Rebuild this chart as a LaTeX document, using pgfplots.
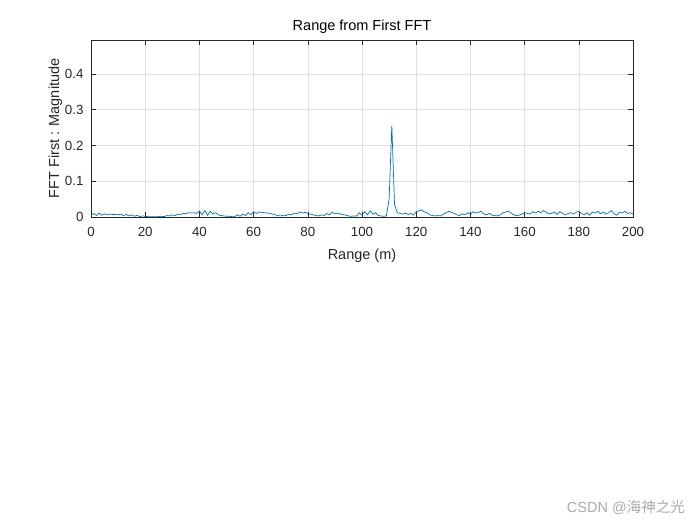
\documentclass[border=0pt]{standalone}
\usepackage{pgfplots}
\pgfplotsset{compat=1.18}
\usepackage{fontspec}
\setmainfont{Liberation Sans}
\newfontfamily\cjk{Noto Sans CJK SC}
\definecolor{mblue}{RGB}{0,114,189}
\definecolor{axc}{RGB}{38,38,38}
\definecolor{gridc}{RGB}{223,223,223}
\begin{document}
\begin{tikzpicture}[x=1bp,y=1bp]
\fill[white] (0,0) rectangle (700,525);
\useasboundingbox (0,0) rectangle (700,525);
\begin{axis}[
  at={(91bp,308bp)}, anchor=south west,
  scale only axis, width=542bp, height=177bp,
  xmin=0, xmax=200, ymin=0, ymax=0.495,
  xtick={0,20,...,200}, ytick={0,0.1,0.2,0.3,0.4},
  yticklabels={0,0.1,0.2,0.3,0.4},
  grid=major, major grid style={gridc, line width=0.5bp},
  axis line style={axc, line width=0.6bp},
  tick style={axc, line width=0.6bp}, major tick length=5bp,
  tick align=inside, tick pos=both,
  ticklabel style={font=\fontsize{13.3bp}{15bp}\selectfont, text=axc},
  /pgf/number format/assume math mode=true,
  xticklabel style={yshift=-7bp},
  yticklabel style={xshift=-4bp},
  title={Range from First FFT},
  title style={font=\fontsize{14.5bp}{16bp}\selectfont, text=black, yshift=-3bp},
  xlabel={Range (m)}, ylabel={FFT First : Magnitude},
  label style={font=\fontsize{14.5bp}{16bp}\selectfont, text=axc},
  xlabel style={yshift=-5bp},
  ylabel style={yshift=-4bp},
  clip=true,
]
\addplot[mblue, line width=0.7bp] table {
x y
0 0.004
1 0.010
2 0.004
3 0.011
4 0.005
5 0.009
6 0.007
7 0.008
8 0.007
9 0.007
10 0.006
11 0.008
12 0.004
13 0.007
14 0.003
15 0.006
16 0.002
17 0.005
18 0.001
19 0.003
20 0.002
21 0.001
22 0.001
23 0.001
24 0.001
25 0.001
26 0.002
27 0.001
28 0.004
29 0.003
30 0.006
31 0.004
32 0.008
33 0.007
34 0.010
35 0.009
36 0.012
37 0.011
38 0.012
39 0.010
40 0.017
41 0.006
42 0.018
43 0.005
44 0.016
45 0.008
46 0.012
47 0.006
48 0.004
49 0.003
50 0.002
51 0.002
52 0.001
53 0.001
54 0.006
55 0.002
56 0.008
57 0.004
58 0.012
59 0.006
60 0.015
61 0.010
62 0.014
63 0.013
64 0.012
65 0.011
66 0.010
67 0.008
68 0.006
69 0.004
70 0.003
71 0.005
72 0.004
73 0.008
74 0.006
75 0.011
76 0.009
77 0.014
78 0.011
79 0.013
80 0.010
81 0.008
82 0.006
83 0.004
84 0.003
85 0.006
86 0.004
87 0.010
88 0.006
89 0.013
90 0.009
91 0.011
92 0.008
93 0.007
94 0.005
95 0.003
96 0.002
97 0.003
98 0.003
99 0.012
100 0.005
101 0.015
102 0.006
103 0.017
104 0.008
105 0.012
106 0.004
107 0.003
108 0.002
109 0.003
110 0.050
111 0.255
112 0.035
113 0.012
114 0.010
115 0.008
116 0.011
117 0.007
118 0.010
119 0.005
120 0.015
121 0.017
122 0.020
123 0.014
124 0.012
125 0.006
126 0.004
127 0.003
128 0.004
129 0.003
130 0.008
131 0.012
132 0.016
133 0.013
134 0.010
135 0.006
136 0.004
137 0.009
138 0.006
139 0.012
140 0.007
141 0.015
142 0.011
143 0.013
144 0.016
145 0.008
146 0.006
147 0.010
148 0.005
149 0.004
150 0.003
151 0.006
152 0.012
153 0.014
154 0.016
155 0.011
156 0.006
157 0.004
158 0.005
159 0.008
160 0.012
161 0.010
162 0.008
163 0.015
164 0.011
165 0.016
166 0.012
167 0.018
168 0.013
169 0.009
170 0.010
171 0.014
172 0.007
173 0.015
174 0.010
175 0.006
176 0.009
177 0.012
178 0.008
179 0.013
180 0.016
181 0.010
182 0.006
183 0.012
184 0.005
185 0.014
186 0.011
187 0.016
188 0.009
189 0.014
190 0.008
191 0.012
192 0.018
193 0.009
194 0.005
195 0.013
196 0.011
197 0.016
198 0.010
199 0.012
200 0.008
};
\end{axis}
\node[anchor=base east, text={rgb,255:red,170;green,170;blue,170}, font=\fontsize{14.5bp}{16bp}\selectfont, inner sep=0pt] at (685bp,12bp) {CSDN @{\cjk 海神之光}};
\end{tikzpicture}
\end{document}
